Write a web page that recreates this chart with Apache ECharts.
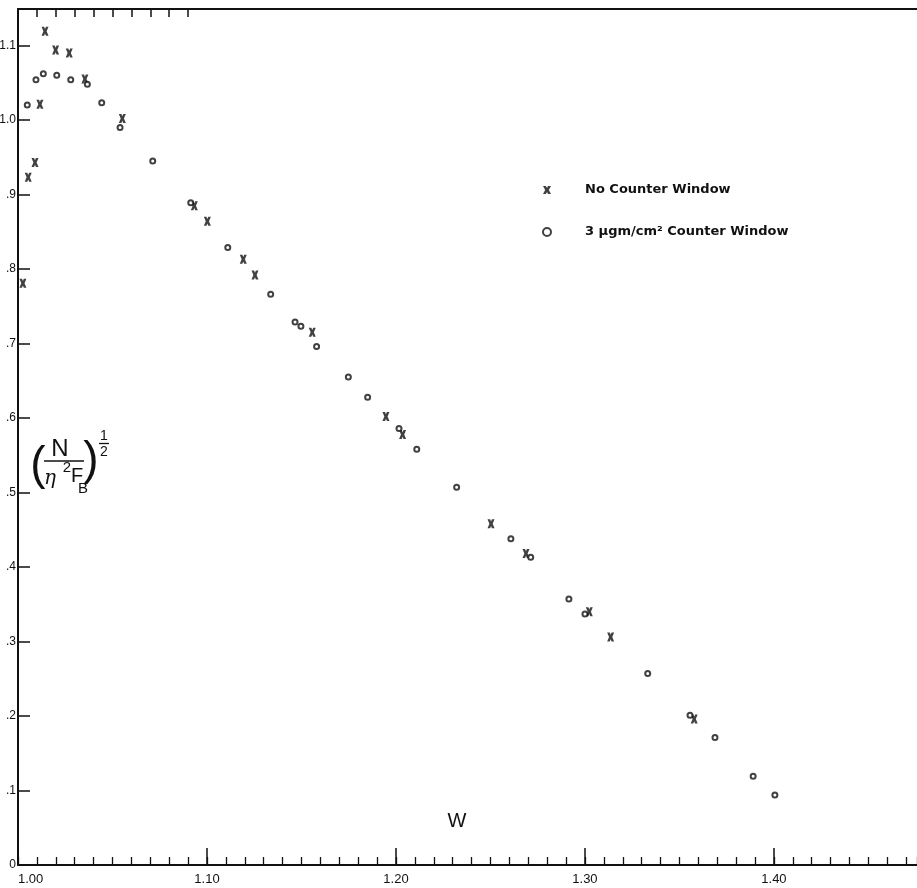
<!DOCTYPE html>
<html>
<head>
<meta charset="utf-8">
<script src="https://cdn.jsdelivr.net/npm/echarts@6/dist/echarts.min.js"></script>
<style>html,body{margin:0;padding:0;background:#fff;}#c{width:917px;height:888px;}</style>
</head>
<body>
<div id="c"></div>
<script>
// ---- data ----
const noWindowW = [1.0026, 1.0054, 1.0090, 1.0116, 1.0143, 1.0199, 1.0271, 1.0354, 1.0552, 1.0933, 1.1002, 1.1192, 1.1254, 1.1557, 1.1947, 1.2035, 1.2503, 1.2688, 1.3023, 1.3136, 1.3578];
const noWindowY = [0.781, 0.923, 0.943, 1.021, 1.119, 1.094, 1.090, 1.055, 1.002, 0.885, 0.864, 0.813, 0.792, 0.715, 0.602, 0.578, 0.458, 0.418, 0.340, 0.306, 0.196];
const windowW = [1.0049, 1.0095, 1.0134, 1.0205, 1.0279, 1.0367, 1.0443, 1.0540, 1.0713, 1.0914, 1.1110, 1.1337, 1.1466, 1.1497, 1.1580, 1.1748, 1.1850, 1.2016, 1.2110, 1.2321, 1.2608, 1.2713, 1.2915, 1.3000, 1.3332, 1.3556, 1.3688, 1.3890, 1.4005];
const windowY = [1.020, 1.054, 1.062, 1.060, 1.054, 1.048, 1.023, 0.990, 0.945, 0.889, 0.829, 0.766, 0.729, 0.723, 0.696, 0.655, 0.628, 0.586, 0.558, 0.507, 0.438, 0.413, 0.357, 0.337, 0.257, 0.201, 0.171, 0.119, 0.094];
const seriesNames = ['No Counter Window', '3 \u03bcgm/cm\u00b2 Counter Window'];
const xTickValues = [1.0, 1.1, 1.2, 1.3, 1.4];
const xTickLabels = ['1.00', '1.10', '1.20', '1.30', '1.40'];
const yTickValues = [0, 0.1, 0.2, 0.3, 0.4, 0.5, 0.6, 0.7, 0.8, 0.9, 1.0, 1.1];
const yTickLabels = ['0', '.1', '.2', '.3', '.4', '.5', '.6', '.7', '.8', '.9', '1.0', '1.1'];

const zip = (a, b) => a.map((v, i) => [v, b[i]]);
const INK = '#111';
const XPATH = 'path://M0,0 L3.7,0 L5,2.5 L6.3,0 L10,0 L7.3,5 L10,10 L6.3,10 L5,7.5 L3.7,10 L0,10 L2.7,5 Z';
const lookup = (vals, labels) => v => {
  for (let i = 0; i < vals.length; i++) if (Math.abs(v - vals[i]) < 1e-6) return labels[i];
  return '';
};
const xLblFont = {fontFamily: 'Liberation Sans', fontSize: 13, color: INK};
const yLblFont = {fontFamily: 'Liberation Sans', fontSize: 12, color: INK};

const chart = echarts.init(document.getElementById('c'), null, {renderer: 'canvas'});
chart.setOption({
  animation: false,
  backgroundColor: '#fff',
  grid: [
    {left: 18, right: 0, top: 9, bottom: 23, containLabel: false, outerBoundsMode: 'none'},
    {left: 18, width: 170.1, top: 9, bottom: 23, containLabel: false, outerBoundsMode: 'none'}
  ],
  xAxis: [
    { // main axis with major ticks and labels
      type: 'value', gridIndex: 0, position: 'bottom', min: 1.0, max: 1.4757, interval: 0.1,
      axisLine: {show: true, onZero: false, lineStyle: {color: INK, width: 2}},
      axisTick: {show: true, inside: true, length: 17, lineStyle: {color: INK, width: 1.5}},
      axisLabel: Object.assign({margin: 8, formatter: lookup(xTickValues, xTickLabels), showMaxLabel: false, alignMinLabel: 'left'}, xLblFont),
      splitLine: {show: false}
    },
    { // minor ticks every 0.01
      type: 'value', gridIndex: 0, position: 'bottom', min: 1.0, max: 1.4757, interval: 0.01,
      axisLine: {show: false, onZero: false},
      axisTick: {show: true, inside: true, length: 8, lineStyle: {color: INK, width: 1.3}},
      axisLabel: {show: false}, splitLine: {show: false}
    },
    { // top frame line
      type: 'value', gridIndex: 0, position: 'top', min: 1.0, max: 1.4757,
      axisLine: {show: true, onZero: false, lineStyle: {color: INK, width: 2}},
      axisTick: {show: false}, axisLabel: {show: false}, splitLine: {show: false}
    },
    { // top ticks on the left part only
      type: 'value', gridIndex: 1, position: 'top', min: 1.0, max: 1.09, interval: 0.01,
      axisLine: {show: false, onZero: false},
      axisTick: {show: true, inside: true, length: 8, lineStyle: {color: INK, width: 1.5}},
      axisLabel: {show: false}, splitLine: {show: false}
    }
  ],
  yAxis: [
    {
      type: 'value', gridIndex: 0, min: 0, max: 1.149, interval: 0.1,
      axisLine: {show: true, onZero: false, lineStyle: {color: INK, width: 2}},
      axisTick: {show: true, inside: true, length: 12, lineStyle: {color: INK, width: 1.5}},
      axisLabel: Object.assign({margin: 2, formatter: lookup(yTickValues, yTickLabels), showMaxLabel: false}, yLblFont),
      splitLine: {show: false}
    },
    {
      type: 'value', gridIndex: 1, min: 0, max: 1.149, show: false, axisLine: {onZero: false}
    }
  ],
  legend: {
    orient: 'vertical', left: 537, top: 178, itemWidth: 8, itemHeight: 9, itemGap: 28,
    selectedMode: false,
    textStyle: {fontFamily: 'DejaVu Sans', fontWeight: 'bold', fontSize: 13, color: INK, padding: [0, 0, 0, 29], lineHeight: 14},
    data: [
      {name: seriesNames[0], icon: XPATH, itemStyle: {color: INK}},
      {name: seriesNames[1], icon: 'emptyCircle', itemStyle: {color: INK, borderColor: INK, borderWidth: 1.3}}
    ]
  },
  series: [
    {
      name: seriesNames[0], type: 'scatter', xAxisIndex: 0, yAxisIndex: 0,
      symbol: XPATH, symbolSize: [7, 9],
      itemStyle: {color: INK},
      data: zip(noWindowW, noWindowY)
    },
    {
      name: seriesNames[1], type: 'scatter', xAxisIndex: 0, yAxisIndex: 0,
      symbol: 'emptyCircle', symbolSize: 5,
      itemStyle: {color: INK, borderColor: INK, borderWidth: 1.3},
      data: zip(windowW, windowY)
    }
  ],
  graphic: [
    {type: 'text', x: 38, y: 466, style: {text: '(', fontFamily: 'Liberation Sans', fontSize: 46, fill: INK, align: 'center', verticalAlign: 'middle'}},
    {type: 'text', x: 60, y: 449, style: {text: 'N', fontFamily: 'Liberation Sans', fontSize: 24, fill: INK, align: 'center', verticalAlign: 'middle'}},
    {type: 'line', shape: {x1: 44, y1: 461, x2: 84, y2: 461}, style: {stroke: INK, lineWidth: 1.5}},
    {type: 'text', x: 50, y: 479, style: {text: '\u03b7', fontFamily: 'DejaVu Serif', fontStyle: 'italic', fontSize: 20, fill: INK, align: 'center', verticalAlign: 'middle'}},
    {type: 'text', x: 67, y: 468, style: {text: '2', fontFamily: 'Liberation Sans', fontSize: 15, fill: INK, align: 'center', verticalAlign: 'middle'}},
    {type: 'text', x: 77, y: 476, style: {text: 'F', fontFamily: 'Liberation Sans', fontSize: 20, fill: INK, align: 'center', verticalAlign: 'middle'}},
    {type: 'text', x: 83, y: 489, style: {text: 'B', fontFamily: 'Liberation Sans', fontSize: 15, fill: INK, align: 'center', verticalAlign: 'middle'}},
    {type: 'text', x: 91, y: 461, style: {text: ')', fontFamily: 'Liberation Sans', fontSize: 46, fill: INK, align: 'center', verticalAlign: 'middle'}},
    {type: 'text', x: 104, y: 436, style: {text: '1', fontFamily: 'Liberation Sans', fontSize: 14, fill: INK, align: 'center', verticalAlign: 'middle'}},
    {type: 'line', shape: {x1: 99, y1: 443.5, x2: 109, y2: 443.5}, style: {stroke: INK, lineWidth: 1.3}},
    {type: 'text', x: 104, y: 452, style: {text: '2', fontFamily: 'Liberation Sans', fontSize: 14, fill: INK, align: 'center', verticalAlign: 'middle'}},
    {type: 'text', x: 457, y: 821, style: {text: 'W', fontFamily: 'Liberation Sans', fontSize: 20, fill: INK, align: 'center', verticalAlign: 'middle'}}
  ]
});
</script>
</body>
</html>
